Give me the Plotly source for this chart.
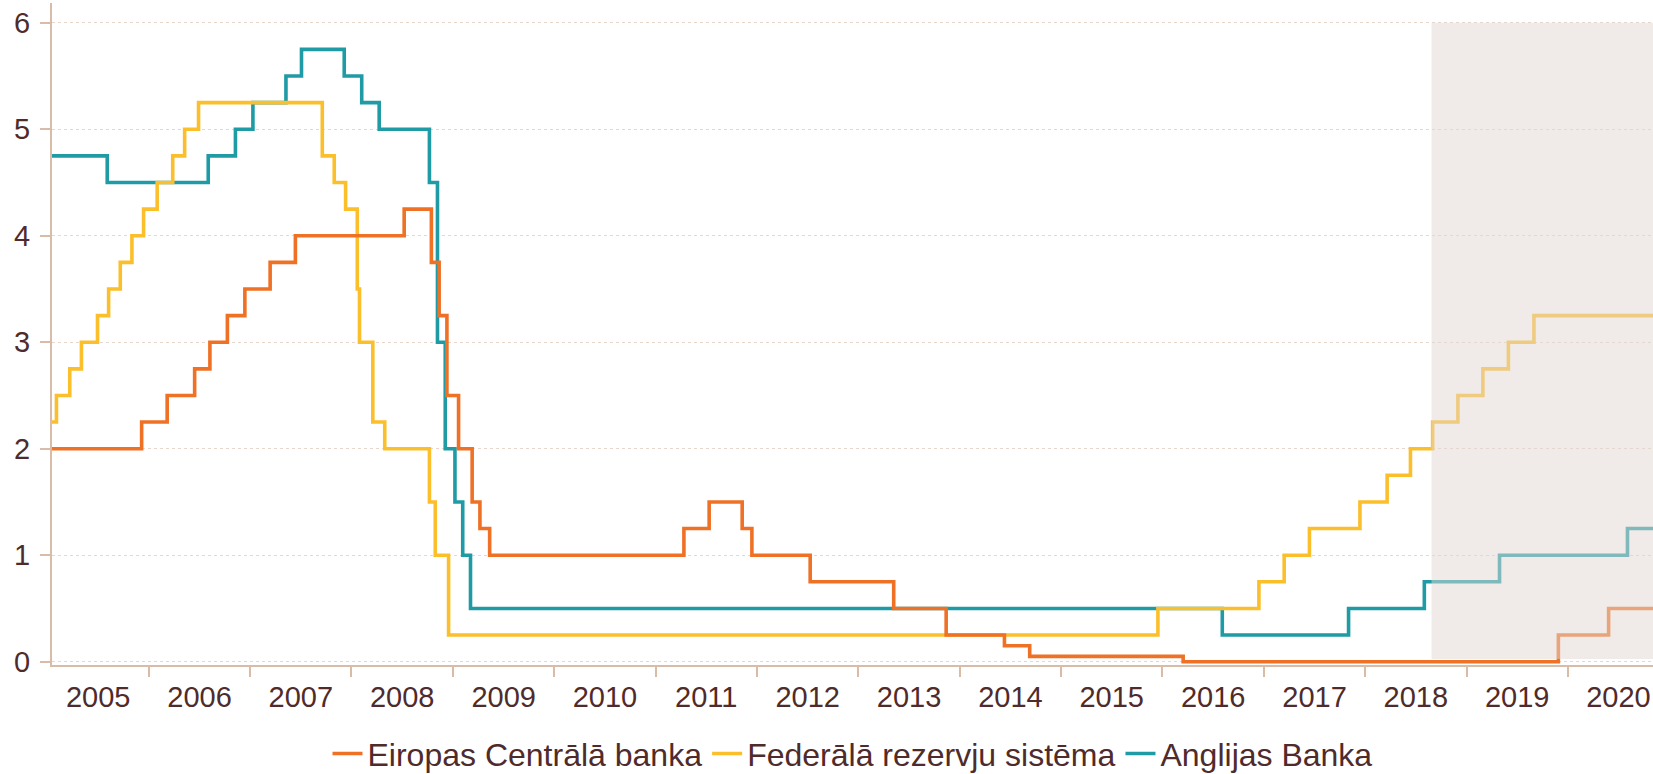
import plotly.graph_objects as go

# ---- data (policy rate change dates and levels) ----
ecb_dates = ["2004-12-15", "2005-12-06", "2006-03-08", "2006-06-15", "2006-08-09", "2006-10-11",
             "2006-12-13", "2007-03-14", "2007-06-13", "2008-07-09", "2008-10-15", "2008-11-12",
             "2008-12-10", "2009-01-21", "2009-03-11", "2009-04-08", "2009-05-13", "2011-04-13",
             "2011-07-13", "2011-11-09", "2011-12-14", "2012-07-11", "2013-05-08", "2013-11-13",
             "2014-06-11", "2014-09-10", "2016-03-16", "2019-11-28", "2020-05-27", "2020-12-31"]
ecb_rates = [2.00, 2.25, 2.50, 2.75, 3.00, 3.25,
             3.50, 3.75, 4.00, 4.25, 3.75, 3.25,
             2.50, 2.00, 1.50, 1.25, 1.00, 1.25,
             1.50, 1.25, 1.00, 0.75, 0.50, 0.25,
             0.15, 0.05, 0.00, 0.25, 0.50, 0.50]

fed_dates = ["2004-12-15", "2005-02-02", "2005-03-22", "2005-05-03", "2005-06-30", "2005-08-09",
             "2005-09-20", "2005-11-01", "2005-12-13", "2006-01-31", "2006-03-28", "2006-05-10",
             "2006-06-29", "2007-09-18", "2007-10-31", "2007-12-11", "2008-01-22", "2008-01-30",
             "2008-03-18", "2008-04-30", "2008-10-08", "2008-10-29", "2008-12-16", "2015-12-16",
             "2016-12-14", "2017-03-15", "2017-06-14", "2017-12-13", "2018-03-21", "2018-06-13",
             "2018-09-01", "2018-12-01", "2019-03-01", "2019-06-01", "2019-09-01", "2020-12-31"]
fed_rates = [2.25, 2.50, 2.75, 3.00, 3.25, 3.50,
             3.75, 4.00, 4.25, 4.50, 4.75, 5.00,
             5.25, 4.75, 4.50, 4.25, 3.50, 3.00,
             2.25, 2.00, 1.50, 1.00, 0.25, 0.50,
             0.75, 1.00, 1.25, 1.50, 1.75, 2.00,
             2.25, 2.50, 2.75, 3.00, 3.25, 3.25]

boe_dates = ["2004-12-15", "2005-08-04", "2006-08-03", "2006-11-09", "2007-01-11", "2007-05-10",
             "2007-07-05", "2007-12-06", "2008-02-07", "2008-04-10", "2008-10-08", "2008-11-06",
             "2008-12-04", "2009-01-08", "2009-02-05", "2009-03-05", "2016-08-04", "2017-11-02",
             "2018-08-02", "2019-04-30", "2020-08-03", "2020-12-31"]
boe_rates = [4.75, 4.50, 4.75, 5.00, 5.25, 5.50,
             5.75, 5.50, 5.25, 5.00, 4.50, 3.00,
             2.00, 1.50, 1.00, 0.50, 0.25, 0.50,
             0.75, 1.00, 1.25, 1.25]

series_names = ["Eiropas Centrālā banka", "Federālā rezervju sistēma", "Anglijas Banka"]
forecast_start = "2018-08-28"
x_range = ["2005-01-17", "2020-11-03"]
y_ticks = [0, 1, 2, 3, 4, 5, 6]

# ---- style ----
C_ECB = "#ef7125"
C_FED = "#fcbf2c"
C_BOE = "#1f9ba6"
TXT = "#4f2b2b"
AXIS = "#d8bca8"
GRID = "#e6d6cb"
FONT = "Liberation Sans, Arial, sans-serif"
LW = 3.6

fig = go.Figure()
fig.add_trace(go.Scatter(x=boe_dates, y=boe_rates, name=series_names[2], mode="lines",
                         line=dict(color=C_BOE, width=LW, shape="hv"), legendrank=3))
fig.add_trace(go.Scatter(x=fed_dates, y=fed_rates, name=series_names[1], mode="lines",
                         line=dict(color=C_FED, width=LW, shape="hv"), legendrank=2))
fig.add_trace(go.Scatter(x=ecb_dates, y=ecb_rates, name=series_names[0], mode="lines",
                         line=dict(color=C_ECB, width=LW, shape="hv"), legendrank=1))

# forecast shading drawn over the lines (semi-transparent)
fig.add_shape(type="rect", xref="x", yref="y", x0=forecast_start, x1="2021-06-01",
              y0=0.025, y1=6.0, fillcolor="rgba(226,216,210,0.5)", line=dict(width=0),
              layer="above")

fig.update_layout(
    width=1653, height=774,
    margin=dict(l=52, r=0, t=3, b=109, autoexpand=False),
    paper_bgcolor="white", plot_bgcolor="white",
    font=dict(family=FONT, size=29, color=TXT),
    showlegend=True,
    legend=dict(orientation="h", x=0.5, xanchor="center", y=-0.134, yanchor="middle",
                font=dict(size=32, color=TXT), traceorder="normal",
                itemwidth=30, bgcolor="rgba(0,0,0,0)"),
)
fig.update_xaxes(
    type="date", range=x_range, dtick="M12", tick0="2005-01-01",
    tickformat="%Y", ticklabelmode="period", automargin=False,
    showgrid=False, zeroline=False,
    showline=True, linecolor=AXIS, linewidth=2,
    ticks="outside", ticklen=10, tickcolor=AXIS, tickwidth=1.5,
    tickfont=dict(size=29, color=TXT), ticklabelstandoff=-5,
)
fig.update_yaxes(
    range=[-0.031, 6.185], tickvals=y_ticks, automargin=False,
    showgrid=True, gridcolor=GRID, griddash="dot", gridwidth=1.2,
    zeroline=False,
    showline=True, linecolor=AXIS, linewidth=2,
    ticks="outside", ticklen=10, tickcolor=AXIS, tickwidth=1.5,
    tickfont=dict(size=29, color=TXT), ticklabelstandoff=4,
)

page_css = ("document.documentElement.style.margin='0';"
            "document.body.style.margin='0';"
            "document.body.style.padding='0';"
            "document.body.style.overflow='hidden';")
fig.write_html("out.html", post_script=page_css, config={"displayModeBar": False})
